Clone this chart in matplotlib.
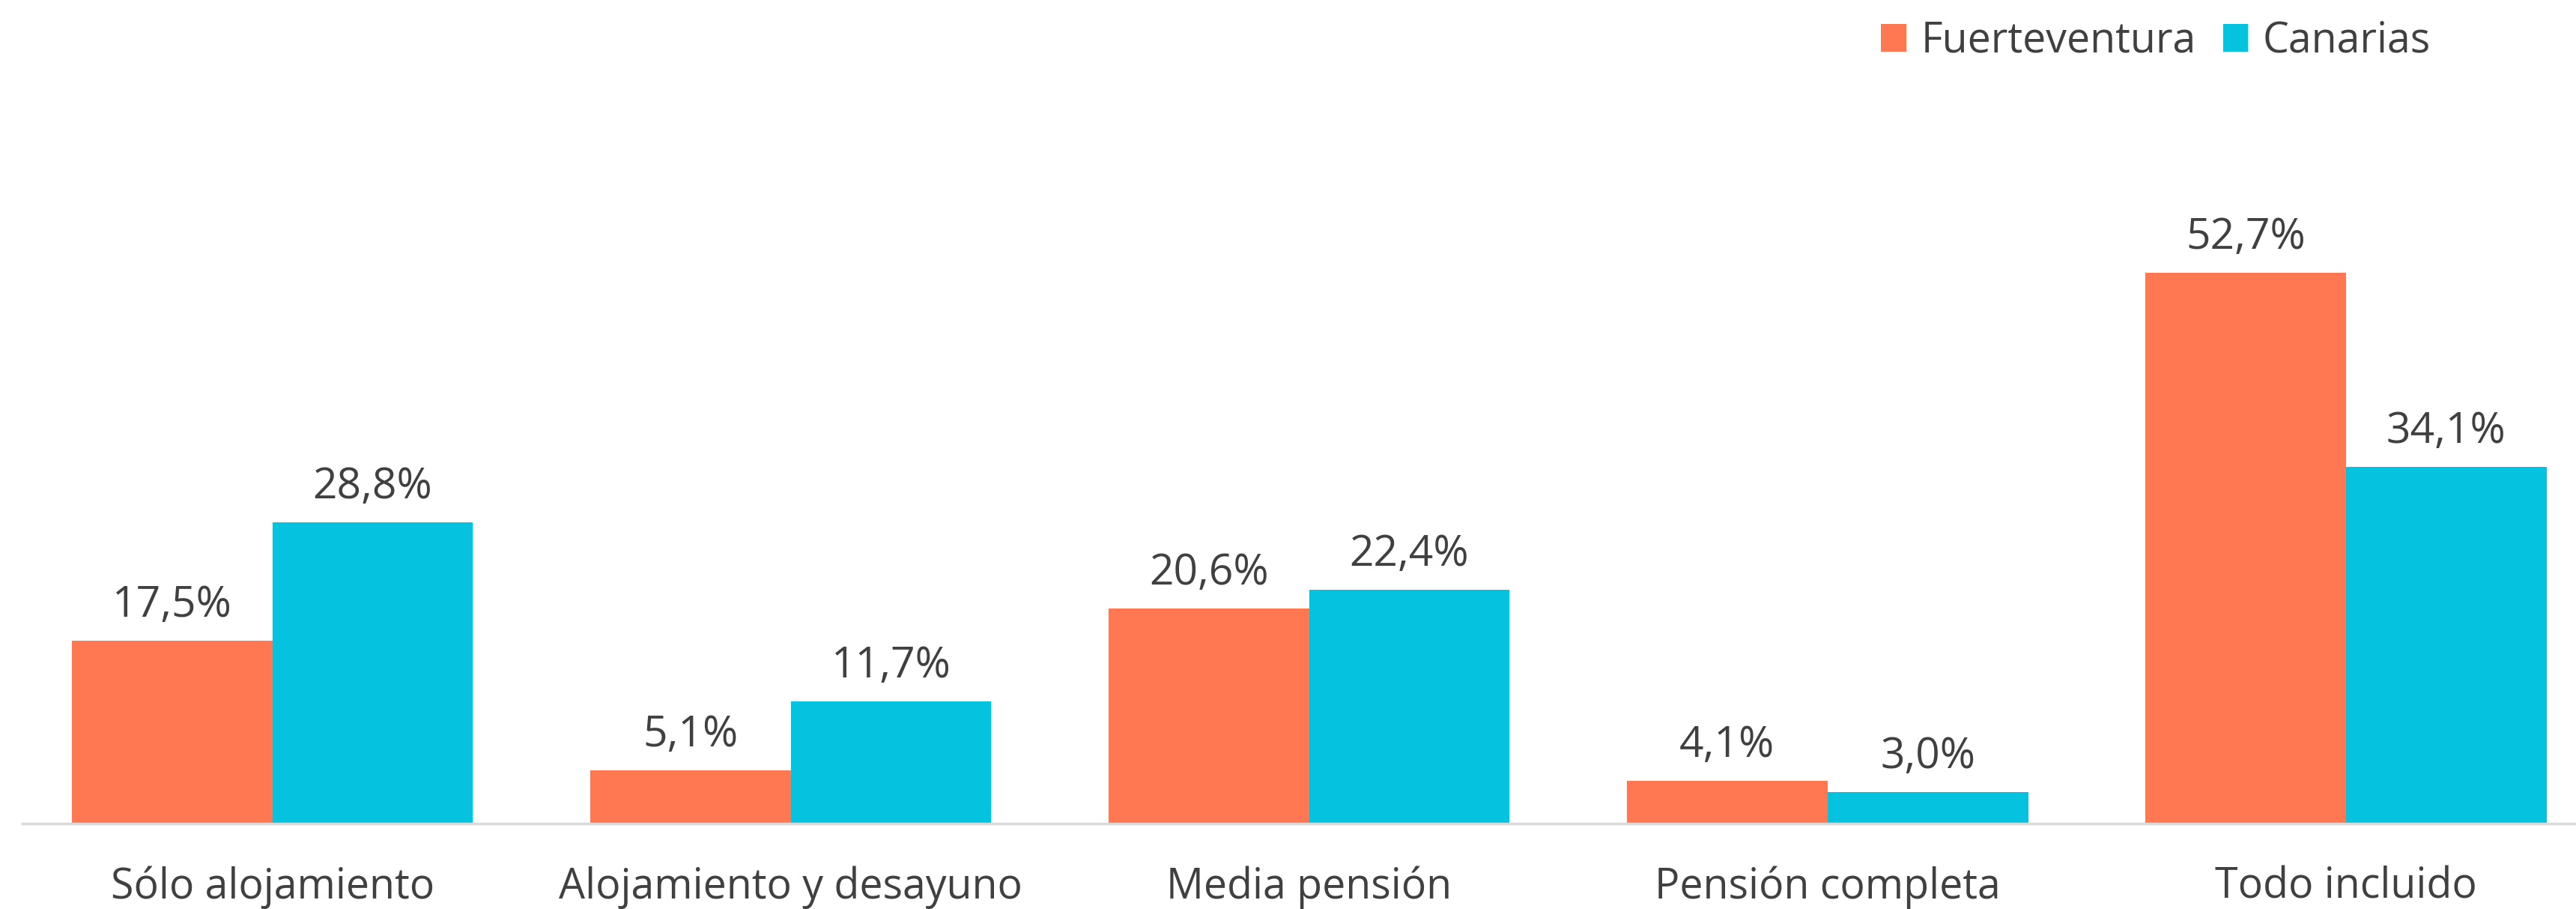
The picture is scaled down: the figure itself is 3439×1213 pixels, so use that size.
import matplotlib
matplotlib.use("Agg")
import matplotlib.pyplot as plt
import numpy as np
from matplotlib.patches import Patch

categories = ["Sólo alojamiento", "Alojamiento y desayuno", "Media pensión",
              "Pensión completa", "Todo incluido"]
fuerteventura = [17.5, 5.1, 20.6, 4.1, 52.7]
canarias = [28.8, 11.7, 22.4, 3.0, 34.1]
series_names = ["Fuerteventura", "Canarias"]

c_orange = "#FF7852"
c_cyan = "#05C3DE"
text_c = "#404040"

W, H = 3439, 1213
dpi = 100
fig = plt.figure(figsize=(W / dpi, H / dpi), dpi=dpi)

base_y = 1099
left_px = 30
ax = fig.add_axes([left_px / W, 1 - base_y / H, 1 - left_px / W, base_y / H])

x = np.arange(len(categories))
bw = 0.387
ax.bar(x - bw / 2, fuerteventura, width=bw, color=c_orange, zorder=2)
ax.bar(x + bw / 2, canarias, width=bw, color=c_cyan, zorder=2)

ax.set_xlim(-0.482, 4.444)
ax.set_ylim(0, 78.8)

def fmt(v):
    return f"{v:.1f}".replace(".", ",") + "%"

for xi, v in zip(x - bw / 2, fuerteventura):
    ax.annotate(fmt(v), (xi, v), xytext=(0, 13), textcoords="offset points",
                ha="center", va="bottom", fontsize=41, color=text_c, family="Open Sans")
for xi, v in zip(x + bw / 2, canarias):
    ax.annotate(fmt(v), (xi, v), xytext=(0, 13), textcoords="offset points",
                ha="center", va="bottom", fontsize=41, color=text_c, family="Open Sans")

for s in ["top", "right", "left"]:
    ax.spines[s].set_visible(False)
ax.spines["bottom"].set_color("#D9D9D9")
ax.spines["bottom"].set_linewidth(2.5)
ax.set_yticks([])
ax.set_xticks(x)
ax.set_xticklabels(categories, fontsize=40, color=text_c, family="Open Sans")
ax.tick_params(axis="x", length=0, pad=41)

handles = [Patch(facecolor=c_orange), Patch(facecolor=c_cyan)]
fig.legend(handles, series_names, loc="upper right", bbox_to_anchor=(0.958, 1.019),
           ncol=2, frameon=False, prop={"family": "Open Sans", "size": 40},
           labelcolor=text_c, handlelength=0.6, handleheight=0.63,
           handletextpad=0.35, columnspacing=0.65)

fig.savefig("out.png", dpi=dpi)
